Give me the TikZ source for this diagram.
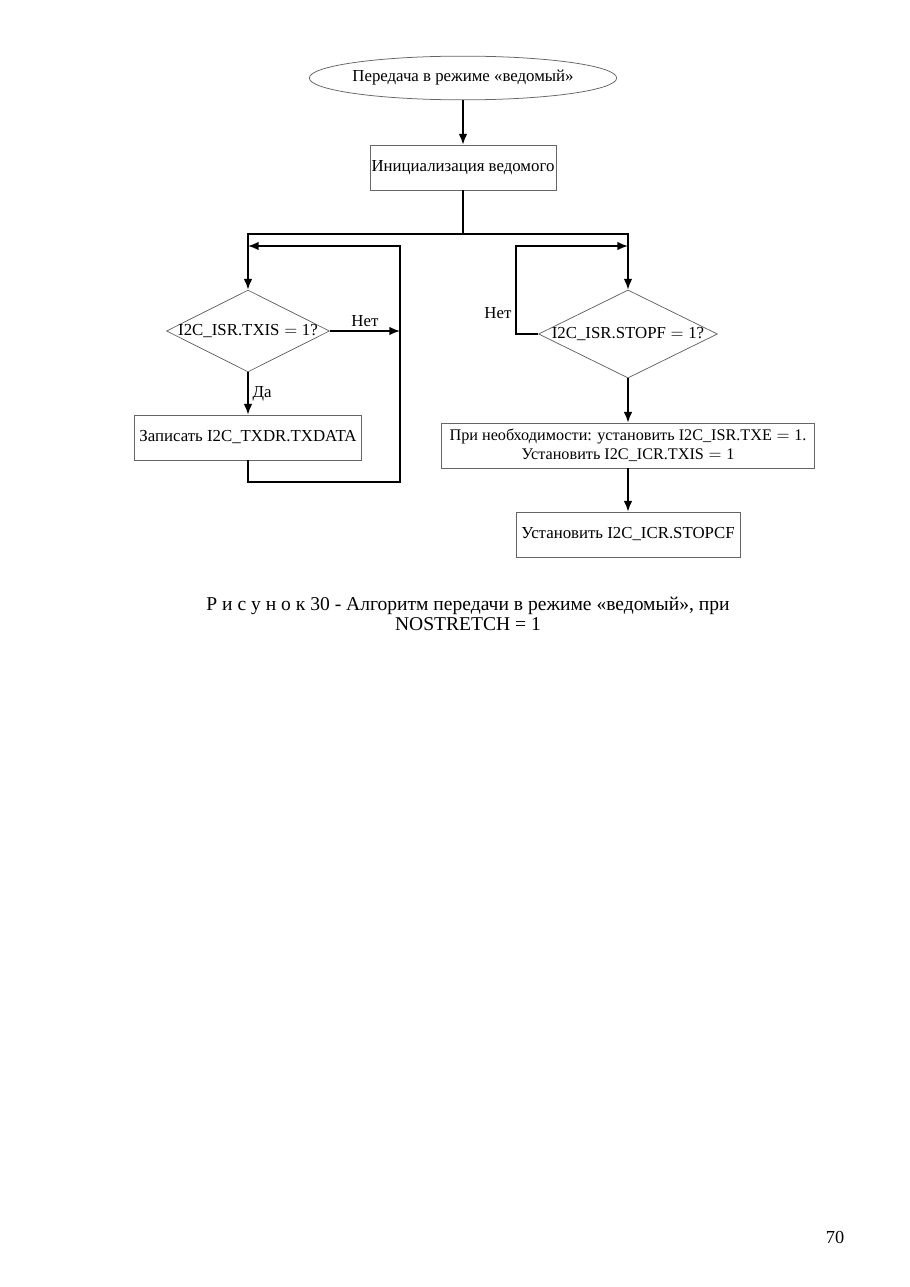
\documentclass[tikz,border=0pt]{standalone}
\usepackage{fontspec}
\setmainfont{Liberation Serif}
\usepackage{tikz}
\usetikzlibrary{positioning, shapes, shapes.geometric, arrows, arrows.meta}
\tikzset{blk/.style={rectangle, draw=black!60, line width=0.5pt, minimum height=29.4pt, inner sep=0pt, align=center, font=\fontsize{11}{13}\selectfont}}
\tikzset{term/.style={ellipse, draw=black!60, line width=0.5pt, minimum width=201pt, minimum height=28.6pt, inner sep=0pt, font=\fontsize{11}{13}\selectfont}}
\tikzset{dec/.style={diamond, draw=black!60, line width=0.5pt, inner sep=0pt, font=\fontsize{11}{13}\selectfont}}
\tikzset{arr/.style={draw, line width=1pt, -{Latex[length=7pt, width=5.6pt]}}}
\tikzset{ln/.style={draw, line width=1pt}}
\tikzset{lbl/.style={font=\fontsize{11}{13}\selectfont, inner sep=2.5pt}}

\begin{document}
\begin{tikzpicture}[x=0.654pt, y=-0.654pt]
                \useasboundingbox (0,0) rectangle (910,1287);
                %
                \node[term] (start) at (463,78) {\makebox[0pt]{Передача в режиме «ведомый»}};
                \node[blk, minimum width=121.6pt] (init) at (463,167.5) {Инициализация ведомого};
                \node[dec, minimum width=106.6pt, minimum height=53.6pt] (txis) at (248,331)
                    {\makebox[0pt]{I2C\_ISR.TXIS${}={}$1?}};
                \node[blk, minimum width=148.5pt] (wr) at (248,437.5) {Записать I2C\_TXDR.TXDATA};
                \node[dec, minimum width=117pt, minimum height=57.6pt] (stopf) at (628,334)
                    {\makebox[0pt]{I2C\_ISR.STOPF${}={}$1?}};
                \node[blk, minimum width=244pt, font=\fontsize{10.6}{12.6}\selectfont] (txe) at (628,445.5)
                    {При необходимости: установить I2C\_ISR.TXE${}={}$1.\\ Установить I2C\_ICR.TXIS${}={}$1};
                \node[blk, minimum width=146.5pt] (stopcf) at (628,534.5) {Установить I2C\_ICR.STOPCF};
                %
                \coordinate (split) at (463,234);
                \coordinate (ljoin) at (248,246);
                \coordinate (lbot) at (400,482);
                \coordinate (lnet) at (400,331);
                \coordinate (rtop) at (516,246);
                \coordinate (rjoin) at (628,246);
                %
                \draw[arr] (start) to (init);
                \draw[ln] (init.south) to (split);
                \draw[arr] (split) -| (txis.north);
                \draw[arr] (split) -| (stopf.north);
                %
                \draw[arr] (txis.south) to
                    node[lbl, right]{Да}
                    (wr.north);
                \draw[arr] (txis.east) to
                    node[lbl, above]{Нет}
                    (lnet);
                \draw[arr] (wr.south) |- (lbot) |- (ljoin);
                %
                \draw[arr] (stopf.west) -|
                    node[lbl, left, pos=0.62]{Нет}
                    (rtop) -- (rjoin);
                \draw[arr] (stopf.south) to (txe.north);
                \draw[arr] (txe.south) to (stopcf.north);
                %
                \node[align=center, font=\fontsize{12.8}{13}\selectfont] (cap) at (468,614)
                    {Р и с у н о к 30 - Алгоритм передачи в режиме «ведомый», при\\ NOSTRETCH = 1};
                \node[font=\fontsize{12}{13}\selectfont] (page) at (835,1237) {70};
                %
            \end{tikzpicture}
\end{document}
